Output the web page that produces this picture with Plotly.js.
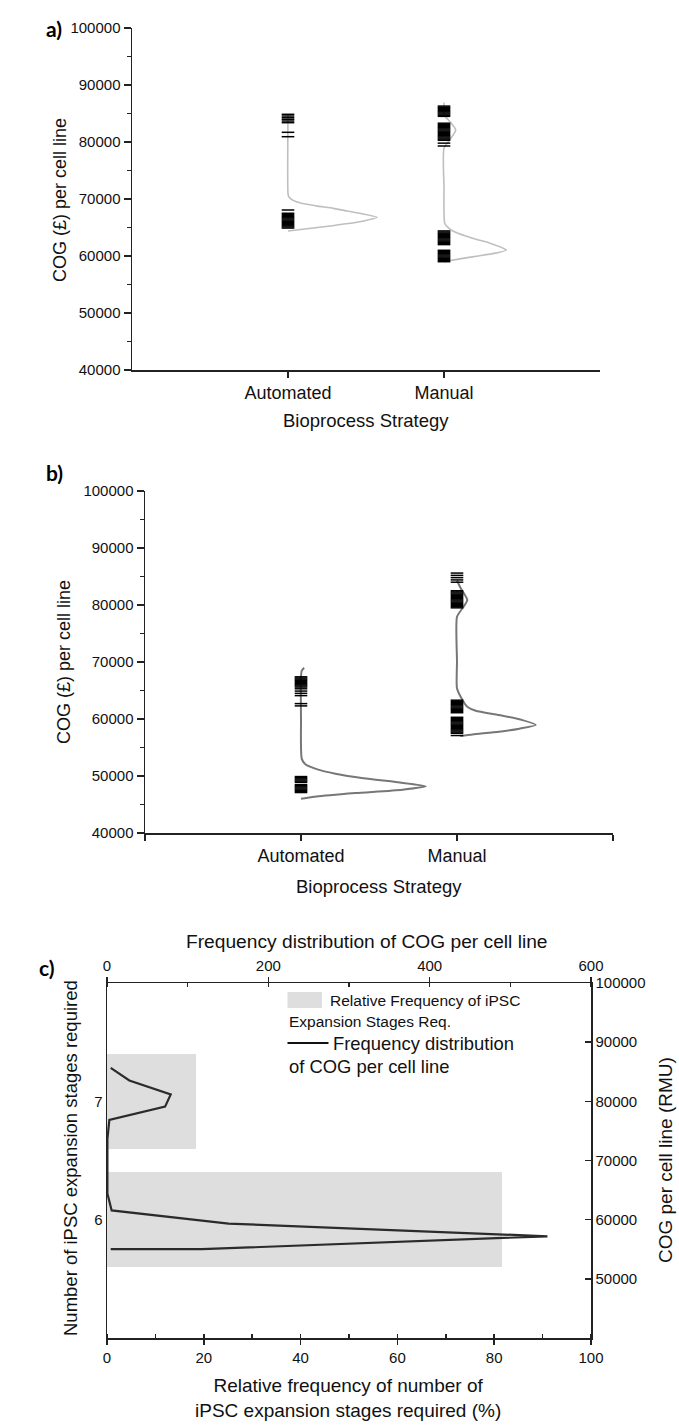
<!DOCTYPE html>
<html><head><meta charset="utf-8">
<script src="https://cdn.plot.ly/plotly-3.0.1.min.js"></script>
<style>html,body{margin:0;padding:0;background:#fff}</style>
</head><body>
<div id="chart" style="width:679px;height:1425px"></div>
<script>
// ---------- categories ----------
const strategies = ['Automated', 'Manual'];
const strategyPos = [1, 2];

// ---------- panel a: rug values (COG, £) ----------
const rugA_auto = [84860, 84560, 84260, 83980, 83680, 83390, 81700, 80930,
  68070, 67500, 67300, 67100, 66900, 66700, 66500, 66300, 66100, 65900, 65700, 65500, 65300, 65100, 64900];
const rugA_man = [86300, 86100, 85900, 85700, 85500, 85300, 85100, 84900, 84700, 84500,
  83300, 83100, 82900, 82700, 82500, 82300, 82100, 81900, 81700, 81500, 81300, 81100, 80900, 80700, 80500, 80300, 79800, 79300,
  64400, 64200, 64000, 63800, 63600, 63400, 63200, 63000, 62800, 62600, 62400, 62200, 62000,
  61000, 60800, 60600, 60400, 60200, 60000, 59800, 59600, 59400, 59200, 59000];
// panel a: density curves (COG, density offset)
const curveA_auto_cog  = [84900, 71000, 70400, 69800, 69300, 68800, 68360, 67900, 67490, 66800, 66020, 65140, 64390];
const curveA_auto_dens = [0, 0, 0.005, 0.03, 0.08, 0.18, 0.29, 0.38, 0.46, 0.57, 0.46, 0.23, 0];
const curveA_man_cog  = [86900, 84800, 83500, 82100, 80500, 78900, 72000, 65700, 64900, 64200, 63500, 62900, 62300, 61600, 61050, 60500, 60000, 59500, 59000];
const curveA_man_dens = [0, 0, 0.04, 0.075, 0.04, 0, 0, 0.005, 0.03, 0.07, 0.14, 0.21, 0.29, 0.36, 0.40, 0.33, 0.22, 0.1, 0];

// ---------- panel b ----------
const rugB_auto = [67400, 67200, 67000, 66800, 66600, 66400, 66200, 66000, 65800, 65600, 65300, 64900, 64500, 64100, 62700, 62300,
  49900, 49700, 49500, 49300, 49100, 48900, 48500, 48300, 48100, 47900, 47700, 47500, 47300, 47100];
const rugB_man = [85600, 85200, 84800, 84400, 84000,
  82500, 82300, 82100, 81900, 81700, 81500, 81300, 81100, 80900, 80700, 80500, 80300, 80100, 79900, 79700, 79500,
  63300, 63100, 62900, 62700, 62500, 62300, 62100, 61900, 61700, 61500, 61300, 61100,
  60300, 60100, 59900, 59700, 59500, 59300, 59100, 58900, 58700, 58500, 58300, 58100, 57900, 57700, 57500, 57100];
const curveB_auto_cog  = [69000, 68500, 67500, 60000, 53000, 52000, 51200, 50400, 49600, 48900, 48200, 47600, 47000, 46400, 46000];
const curveB_auto_dens = [0.02, 0.005, 0, 0, 0.005, 0.03, 0.1, 0.22, 0.4, 0.62, 0.8, 0.65, 0.35, 0.1, 0];
const curveB_man_cog  = [84300, 82930, 80880, 79420, 77950, 70000, 65380, 63330, 62160, 61460, 60700, 59800, 58950, 58300, 57780, 57300, 57020];
const curveB_man_dens = [0, 0.024, 0.066, 0.035, 0, 0, 0, 0.035, 0.066, 0.12, 0.27, 0.42, 0.505, 0.4, 0.27, 0.1, 0.02];

// ---------- panel c ----------
const stageLevels = [6, 7];
const stagePct = [81.6, 18.4];
const freqCOG   = [85660, 83530, 81180, 79110, 76860, 73600, 64400, 61560, 59330, 57190, 55010, 55010];
const freqCount = [4.6, 27.7, 79, 72, 2.9, 0.5, 0.5, 5.8, 150.7, 546, 117.6, 4.6];
const freqTicks = [0, 200, 400, 600];
const cogRightTicks = [50000, 60000, 70000, 80000, 90000, 100000];

// ---------- helpers ----------
const W = 679, H = 1425;
const X = px => px / W;
const Y = py => 1 - py / H;
const FONT = 'Liberation Sans, Arial, sans-serif';
const INK = '#222';

function curve(pos, cog, dens, xa, ya, color, width) {
  return {type: 'scatter', mode: 'lines', xaxis: xa, yaxis: ya,
    x: dens.map(d => pos + d), y: cog,
    line: {color: color, width: width, shape: 'spline', smoothing: 0.6}, hoverinfo: 'skip'};
}
function rug(pos, vals, xa, ya) {
  return {type: 'scatter', mode: 'markers', xaxis: xa, yaxis: ya,
    x: vals.map(() => pos), y: vals,
    marker: {symbol: 'line-ew', size: 9, color: '#000', line: {color: '#000', width: 1.5}}, hoverinfo: 'skip'};
}

const traces = [
  curve(strategyPos[0], curveA_auto_cog, curveA_auto_dens, 'x', 'y', '#bfbfbf', 1.6),
  curve(strategyPos[1], curveA_man_cog, curveA_man_dens, 'x', 'y', '#bfbfbf', 1.6),
  rug(strategyPos[0], rugA_auto, 'x', 'y'),
  rug(strategyPos[1], rugA_man, 'x', 'y'),
  curve(strategyPos[0], curveB_auto_cog, curveB_auto_dens, 'x2', 'y2', '#777777', 2),
  curve(strategyPos[1], curveB_man_cog, curveB_man_dens, 'x2', 'y2', '#777777', 2),
  rug(strategyPos[0], rugB_auto, 'x2', 'y2'),
  rug(strategyPos[1], rugB_man, 'x2', 'y2'),
  {type: 'bar', orientation: 'h', x: stagePct, y: stageLevels, width: 0.8,
   xaxis: 'x3', yaxis: 'y3', marker: {color: '#dedede', line: {width: 0}}, hoverinfo: 'skip'},
  {type: 'scatter', mode: 'lines', x: freqCount, y: freqCOG, xaxis: 'x4', yaxis: 'y4',
   line: {color: '#2b2b2b', width: 2.2}, hoverinfo: 'skip'}
];

const baseAxis = {showline: true, linecolor: INK, linewidth: 1.5, showgrid: false, zeroline: false,
  tickcolor: INK, tickwidth: 1.5, tickfont: {size: 15, color: '#111'}};

function catAxis(domain, anchor, tv) {
  return Object.assign({}, baseAxis, {domain: domain, anchor: anchor, range: [0, 3],
    tickvals: tv, ticktext: tv.map(v => strategies[strategyPos.indexOf(v)] || ''),
    ticks: 'outside', ticklen: 6, tickfont: {size: 18, color: '#111'}});
}
function cogAxis(domain, anchor) {
  return Object.assign({}, baseAxis, {domain: domain, anchor: anchor, range: [40000, 100000],
    dtick: 10000, tick0: 0, tickformat: 'd', ticks: 'outside', ticklen: 7,
    minor: {dtick: 5000, ticks: 'outside', ticklen: 4, tickcolor: INK, tickwidth: 1.5}});
}

const ann = (text, px, py, size, extra) => Object.assign({
  text: text, xref: 'paper', yref: 'paper', x: X(px), y: Y(py), showarrow: false,
  xanchor: 'center', yanchor: 'middle',
  font: {family: FONT, size: size, color: '#111'}}, extra || {});
const PANEL_FONT = {family: 'Lato, Open Sans, sans-serif', size: 21, color: '#000'};

const layout = {
  width: W, height: H, autosize: false,
  margin: {l: 0, r: 0, t: 0, b: 0},
  paper_bgcolor: '#fff', plot_bgcolor: 'rgba(0,0,0,0)',
  showlegend: false, bargap: 0,
  font: {family: FONT, color: '#111'},
  xaxis: catAxis([X(132), X(600)], 'y', [1, 2]),
  yaxis: cogAxis([Y(370), Y(28)], 'x'),
  xaxis2: catAxis([X(145), X(613)], 'y2', [0, 1, 2, 3]),
  yaxis2: cogAxis([Y(833), Y(491)], 'x2'),
  xaxis3: Object.assign({}, baseAxis, {domain: [X(107), X(591)], anchor: 'y3', range: [0, 100],
    dtick: 20, ticks: 'outside', ticklen: 5,
    minor: {dtick: 10, ticks: 'inside', ticklen: 4, tickcolor: INK, tickwidth: 1.5}}),
  xaxis4: Object.assign({}, baseAxis, {overlaying: 'x3', side: 'top', anchor: 'y3', range: [0, 600],
    tickvals: freqTicks, ticks: 'outside', ticklen: 5,
    minor: {dtick: 100, ticks: 'inside', ticklen: 4, tickcolor: INK, tickwidth: 1.5}}),
  yaxis3: Object.assign({}, baseAxis, {domain: [Y(1338), Y(983)], anchor: 'x3', range: [5, 8],
    tickvals: stageLevels, ticks: ''}),
  yaxis4: Object.assign({}, baseAxis, {overlaying: 'y3', side: 'right', anchor: 'x3', range: [40000, 100000],
    tickvals: cogRightTicks, tickformat: 'd', ticks: 'inside', ticklen: 6}),
  annotations: [
    ann('<b>a)</b>', 54, 28, 21, {font: PANEL_FONT}),
    ann('<b>b)</b>', 54, 472, 21, {font: PANEL_FONT}),
    ann('<b>c)</b>', 47, 967, 21, {font: PANEL_FONT}),
    ann('COG (£) per cell line', 60, 200, 18, {textangle: -90}),
    ann('Bioprocess Strategy', 366, 420, 18.5),
    ann('COG (£) per cell line', 64, 662, 18, {textangle: -90}),
    ann('Bioprocess Strategy', 379, 887, 18.5),
    ann('Frequency distribution of COG per cell line', 367, 941, 19.2),
    ann('Number of iPSC expansion stages required', 70, 1158, 18.5, {textangle: -90}),
    ann('COG per cell line (RMU)', 665, 1160, 19, {textangle: -90}),
    ann('Relative frequency of number of<br>iPSC expansion stages required (%)', 348, 1398, 19),
    ann('Relative Frequency of iPSC', 328, 1000, 15.5, {xanchor: 'left'}),
    ann('Expansion Stages Req.', 287, 1021, 15.5, {xanchor: 'left'}),
    ann('Frequency distribution', 331, 1043, 18.4, {xanchor: 'left'}),
    ann('of COG per cell line', 287, 1066, 18.4, {xanchor: 'left'})
  ],
  shapes: [
    {type: 'rect', xref: 'paper', yref: 'paper', x0: X(287.5), x1: X(322), y0: Y(1008), y1: Y(992),
     fillcolor: '#dedede', line: {width: 0}},
    {type: 'line', xref: 'paper', yref: 'paper', x0: X(287.5), x1: X(328.5), y0: Y(1043), y1: Y(1043),
     line: {color: '#111', width: 2}}
  ]
};

Plotly.newPlot('chart', traces, layout, {displayModeBar: false, staticPlot: true});
</script>
</body></html>
